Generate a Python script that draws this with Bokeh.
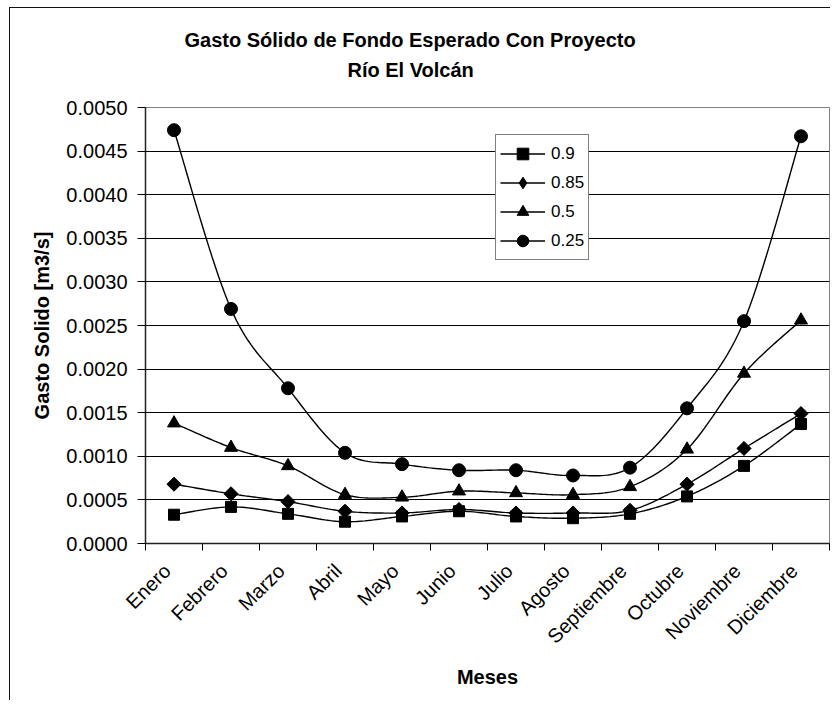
import numpy as np
from bokeh.plotting import figure
from bokeh.models import (Range1d, FixedTicker, NumeralTickFormatter, Legend,
                          LegendItem, Title, ColumnDataSource)
from bokeh.embed import file_html
from bokeh.resources import INLINE

# ---------------- data ----------------
months = ["Enero", "Febrero", "Marzo", "Abril", "Mayo", "Junio", "Julio",
          "Agosto", "Septiembre", "Octubre", "Noviembre", "Diciembre"]
series_labels = ["0.9", "0.85", "0.5", "0.25"]
q090 = [0.00033, 0.00042, 0.00034, 0.00025, 0.00031, 0.00037, 0.00031,
        0.00029, 0.00034, 0.00054, 0.00089, 0.00137]
q085 = [0.00068, 0.00057, 0.00048, 0.00037, 0.00035, 0.00039, 0.00035,
        0.00035, 0.00038, 0.00068, 0.00109, 0.00149]
q050 = [0.00138, 0.00110, 0.00089, 0.00056, 0.00053, 0.00060, 0.00058,
        0.00056, 0.00065, 0.00108, 0.00195, 0.00256]
q025 = [0.00474, 0.00269, 0.00178, 0.00104, 0.00091, 0.00084, 0.00084,
        0.00078, 0.00087, 0.00155, 0.00255, 0.00467]
y_ticks = [0.0000, 0.0005, 0.0010, 0.0015, 0.0020, 0.0025, 0.0030,
           0.0035, 0.0040, 0.0045, 0.0050]

title_line1 = "Gasto Sólido de Fondo Esperado Con Proyecto"
title_line2 = "Río El Volcán"
x_title = "Meses"
y_title = "Gasto Solido [m3/s]"

FONT = "Liberation Sans"


def smooth(xs, ys, n=20):
    """Excel-like smoothed line (cubic Bezier, Catmull-Rom tangents)."""
    P = np.column_stack([np.asarray(xs, float), np.asarray(ys, float)])
    E = np.vstack([P[0], P, P[-1]])
    t = np.linspace(0.0, 1.0, n, endpoint=False)[:, None]
    pts = []
    for i in range(len(P) - 1):
        p0, p3 = P[i], P[i + 1]
        c1 = p0 + (E[i + 2] - E[i]) / 6.0
        c2 = p3 - (E[i + 3] - E[i + 1]) / 6.0
        b = ((1 - t) ** 3) * p0 + 3 * ((1 - t) ** 2) * t * c1 \
            + 3 * (1 - t) * (t ** 2) * c2 + (t ** 3) * p3
        pts.append(b)
    pts.append(P[-1:])
    pts = np.vstack(pts)
    return pts[:, 0], pts[:, 1]


centers = [i + 0.5 for i in range(len(months))]
bounds = [float(i) for i in range(len(months) + 1)]
label_pos = [c - 0.12 for c in centers]   # rotated labels sit just left of centre

p = figure(width=830, height=700, output_backend="svg", toolbar_location=None,
           x_range=Range1d(0, len(months)), y_range=Range1d(y_ticks[0], y_ticks[-1]),
           min_border_left=145, min_border_right=1, min_border_top=107,
           min_border_bottom=157)
p.border_fill_color = None
p.background_fill_color = "white"
p.outline_line_color = "#808080"
p.outline_line_width = 1
# outer chart-area frame (left and top edges)
p.styles = {"box-shadow": "inset 9px 7px 0 0 #ffffff, inset 10px 8px 0 0 #111111"}

# titles: stacked outward from the frame (first added = closest)
spacer = Title(text=" ", text_font_size="1px", standoff=24)
t2 = Title(text=title_line2, align="left", offset=202, standoff=0,
           text_font=FONT, text_font_size="20px", text_font_style="bold",
           text_color="black")
t1 = Title(text=title_line1, align="left", offset=39, standoff=11,
           text_font=FONT, text_font_size="20px", text_font_style="bold",
           text_color="black")
p.add_layout(spacer, "above")
p.add_layout(t2, "above")
p.add_layout(t1, "above")

# x axis
xa = p.xaxis[0]
xa.ticker = FixedTicker(ticks=label_pos, minor_ticks=bounds)
xa.major_label_overrides = {c: m for c, m in zip(label_pos, months)}
xa.major_tick_out = 0
xa.major_tick_in = 0
xa.minor_tick_out = 7
xa.minor_tick_in = 0
xa.minor_tick_line_color = "black"
xa.major_label_orientation = np.pi / 4
xa.major_label_standoff = 17
xa.major_label_text_font = FONT
xa.major_label_text_font_size = "20px"
xa.major_label_text_color = "black"
xa.axis_line_color = "#222222"
xa.axis_line_width = 1.5
xa.axis_label = x_title
xa.axis_label_text_font = FONT
xa.axis_label_text_font_size = "20px"
xa.axis_label_text_font_style = "bold"
xa.axis_label_text_color = "black"
xa.axis_label_standoff = 8

# y axis
ya = p.yaxis[0]
ya.ticker = FixedTicker(ticks=y_ticks)
ya.formatter = NumeralTickFormatter(format="0.0000")
ya.major_tick_out = 8
ya.major_tick_in = 0
ya.minor_tick_out = 0
ya.minor_tick_in = 0
ya.major_tick_line_color = "black"
ya.major_label_standoff = 10
ya.major_label_text_font = FONT
ya.major_label_text_font_size = "20px"
ya.major_label_text_color = "black"
ya.axis_line_color = "#222222"
ya.axis_line_width = 1.5
ya.axis_label = y_title
ya.axis_label_text_font = FONT
ya.axis_label_text_font_size = "20px"
ya.axis_label_text_font_style = "bold"
ya.axis_label_text_color = "black"
ya.axis_label_standoff = 10

# grid
p.xgrid.visible = False
p.ygrid.ticker = FixedTicker(ticks=y_ticks[1:-1])
p.ygrid.grid_line_color = "black"
p.ygrid.grid_line_width = 1

# series
series = [q090, q085, q050, q025]
markers = ["square", "square", "triangle", "circle"]
angles = [0.0, np.pi / 4, 0.0, 0.0]
sizes = [11, 10, 13, 13]
items = []
for lab, vals, mk, ang, sz in zip(series_labels, series, markers, angles, sizes):
    sx, sy = smooth(centers, vals)
    lr = p.line(sx, sy, line_color="black", line_width=1.4)
    src = ColumnDataSource(dict(x=centers, y=vals))
    sr = p.scatter(x="x", y="y", source=src, marker=mk, angle=ang, size=sz,
                   fill_color="black", line_color="black")
    if ang != 0.0:
        # legend glyph for the rotated-square marker (not drawn in the plot)
        sr = p.scatter(x="x", y="y", source=src, marker="diamond", size=13,
                       fill_color="black", line_color="black", visible=False)
    items.append(LegendItem(label=lab, renderers=[lr, sr]))

legend = Legend(items=items, location=(350, 283))
legend.border_line_color = "black"
legend.border_line_width = 1
legend.background_fill_color = "white"
legend.background_fill_alpha = 1.0
legend.label_text_font = FONT
legend.label_text_font_size = "17px"
legend.label_text_color = "black"
legend.glyph_width = 45
legend.glyph_height = 29
legend.label_height = 29
legend.label_standoff = 6
legend.padding = 4
legend.spacing = 0
legend.margin = 0
p.add_layout(legend)

open("out.html", "w").write(file_html(p, INLINE))
